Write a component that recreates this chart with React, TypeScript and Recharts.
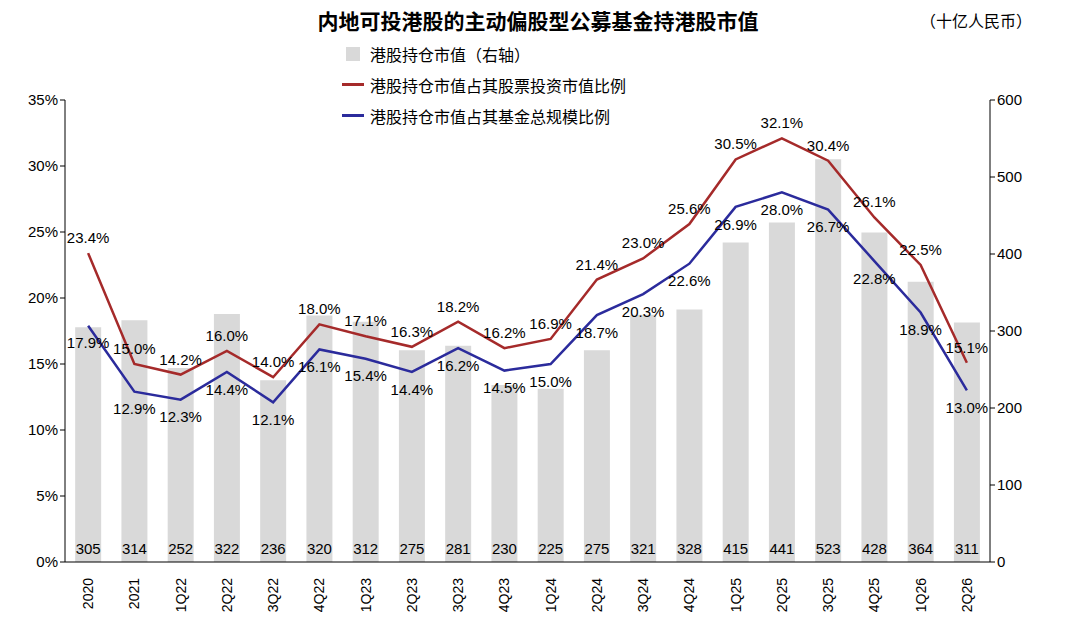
import React from 'react';
import { ComposedChart, Bar, Line, XAxis, YAxis, LabelList } from 'recharts';

const categories = ['2020', '2021', '1Q22', '2Q22', '3Q22', '4Q22', '1Q23', '2Q23', '3Q23', '4Q23', '1Q24', '2Q24', '3Q24', '4Q24', '1Q25', '2Q25', '3Q25', '4Q25', '1Q26', '2Q26'];
const holdings = [305, 314, 252, 322, 236, 320, 312, 275, 281, 230, 225, 275, 321, 328, 415, 441, 523, 428, 364, 311];
const stockRatio = [23.4, 15.0, 14.2, 16.0, 14.0, 18.0, 17.1, 16.3, 18.2, 16.2, 16.9, 21.4, 23.0, 25.6, 30.5, 32.1, 30.4, 26.1, 22.5, 15.1];
const fundRatio = [17.9, 12.9, 12.3, 14.4, 12.1, 16.1, 15.4, 14.4, 16.2, 14.5, 15.0, 18.7, 20.3, 22.6, 26.9, 28.0, 26.7, 22.8, 18.9, 13.0];
const leftTicks = [0, 5, 10, 15, 20, 25, 30, 35];
const rightTicks = [0, 100, 200, 300, 400, 500, 600];

const data = categories.map((c, i) => ({ c, h: holdings[i], s: stockRatio[i], f: fundRatio[i] }));

const font = '"Liberation Sans", Arial, sans-serif';

const XTick = (props: any) => {
  const { x, y, payload } = props;
  return (
    <text x={x + 5} y={y + 8} transform={`rotate(-90 ${x + 5} ${y + 8})`} textAnchor="end" fontSize={14} fill="#000" fontFamily={font}>
      {payload.value}
    </text>
  );
};

const pct = (v: any) => `${Number(v).toFixed(1)}%`;

const legendRow = (swatch: React.ReactNode, label: string) => (
  <div style={{ display: 'flex', alignItems: 'center', height: 31 }}>
    <div style={{ width: 22, display: 'flex', justifyContent: 'center', marginRight: 6 }}>{swatch}</div>
    <span>{label}</span>
  </div>
);

export default function App() {
  return (
    <div style={{ position: 'absolute', left: 0, top: 0, width: 1080, height: 629, background: '#fff', fontFamily: font }}>
      <div style={{ position: 'absolute', top: 5, left: 0, width: 1076, textAlign: 'center', fontSize: 21, fontWeight: 'bold', fontFamily: '"Noto Sans CJK SC", sans-serif' }}>
        内地可投港股的主动偏股型公募基金持港股市值
      </div>
      <div style={{ position: 'absolute', top: 8, left: 920, fontSize: 16, fontFamily: '"Noto Sans CJK SC", sans-serif' }}>（十亿人民币）</div>
      <div style={{ position: 'absolute', top: 38, left: 342, fontSize: 16, fontFamily: '"Noto Sans CJK SC", sans-serif', zIndex: 2 }}>
        {legendRow(<div style={{ width: 14, height: 14, background: '#d9d9d9' }} />, '港股持仓市值（右轴）')}
        {legendRow(<div style={{ width: 22, height: 3, background: '#a52a2a' }} />, '港股持仓市值占其股票投资市值比例')}
        {legendRow(<div style={{ width: 22, height: 3, background: '#2b2b9c' }} />, '港股持仓市值占其基金总规模比例')}
      </div>
      <ComposedChart width={1080} height={629} data={data} margin={{ top: 100, right: 0, left: 0, bottom: 0 }} barCategoryGap="22%">
        <XAxis dataKey="c" height={67} tick={<XTick />} tickLine={false} axisLine={{ stroke: '#000' }} interval={0} />
        <YAxis yAxisId="l" width={65} domain={[0, 35]} ticks={leftTicks} tickFormatter={(v) => `${v}%`} tick={{ fontSize: 15, fill: '#000', fontFamily: font }} axisLine={{ stroke: '#000' }} tickLine={{ stroke: '#000' }} tickSize={5} />
        <YAxis yAxisId="r" orientation="right" width={90} domain={[0, 600]} ticks={rightTicks} tick={{ fontSize: 15, fill: '#000', fontFamily: font, textAnchor: 'start' }} axisLine={{ stroke: '#000' }} tickLine={{ stroke: '#000' }} tickSize={5} />
        <Bar yAxisId="r" dataKey="h" fill="#d9d9d9" isAnimationActive={false}>
          <LabelList dataKey="h" position="insideBottom" offset={8} fontSize={15} fill="#000" fontFamily={font} />
        </Bar>
        <Line yAxisId="l" dataKey="s" stroke="#a52a2a" strokeWidth={2.5} dot={false} isAnimationActive={false}>
          <LabelList dataKey="s" position="top" offset={10} formatter={pct} fontSize={15} fill="#000" fontFamily={font} />
        </Line>
        <Line yAxisId="l" dataKey="f" stroke="#2b2b9c" strokeWidth={2.5} dot={false} isAnimationActive={false}>
          <LabelList dataKey="f" position="bottom" offset={12} formatter={pct} fontSize={15} fill="#000" fontFamily={font} />
        </Line>
      </ComposedChart>
    </div>
  );
}
